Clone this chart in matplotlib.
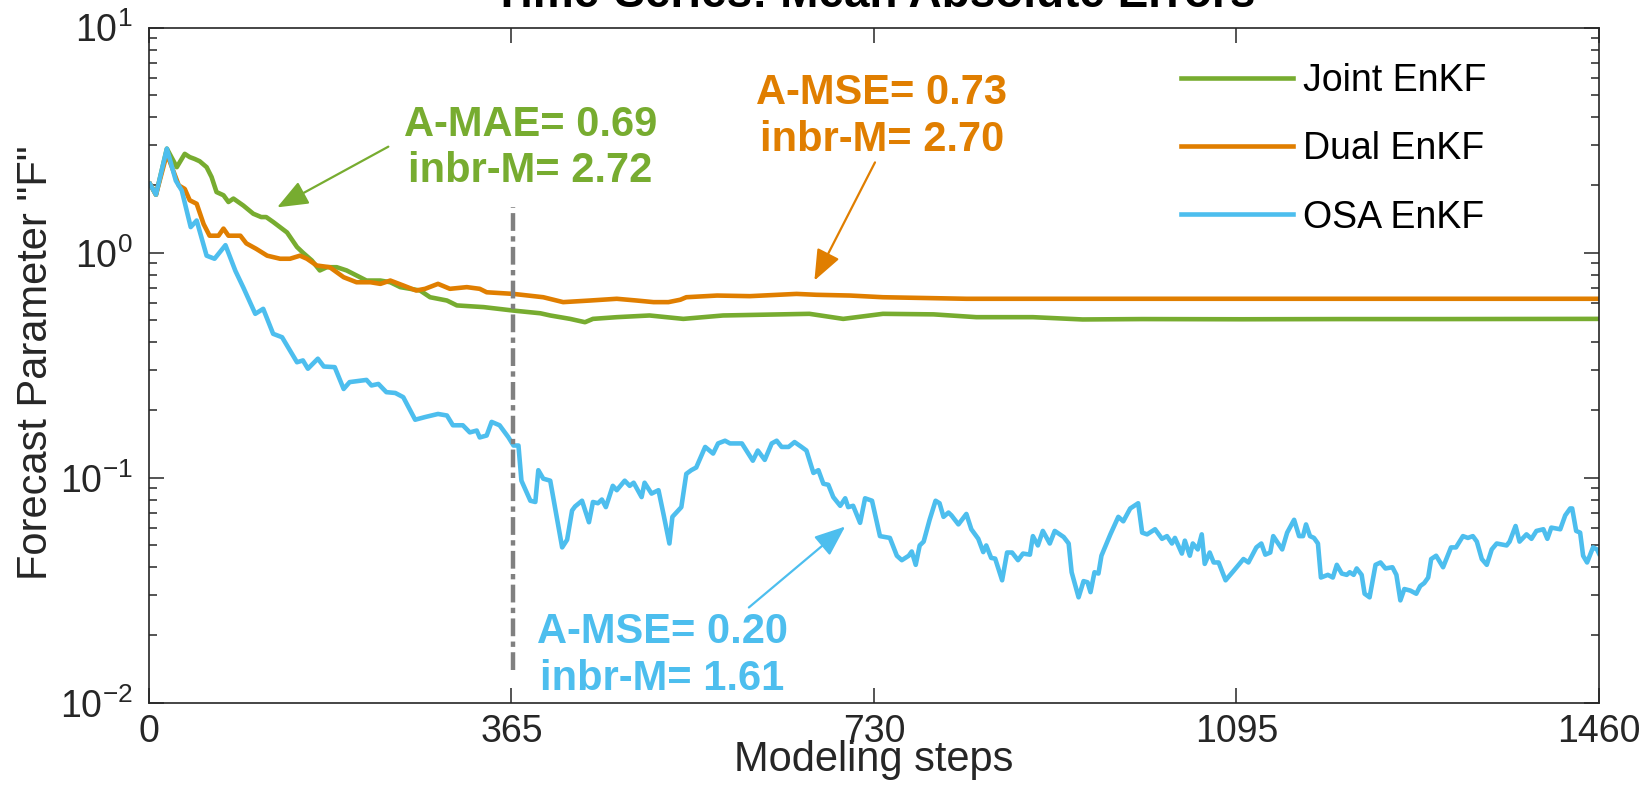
import numpy as np
import matplotlib
matplotlib.use('Agg')
import matplotlib.pyplot as plt
from matplotlib.ticker import LogLocator, NullLocator

plt.rcParams['font.family'] = ['Liberation Sans', 'DejaVu Sans']
plt.rcParams['mathtext.fontset'] = 'custom'
plt.rcParams['mathtext.rm'] = 'Liberation Sans'

# Datos: (paso, error)
joint_pts = [(1, 2.02), (7, 1.81), (18, 2.90), (28, 2.40), (36, 2.75), (41, 2.66), (46, 2.61),
             (51, 2.55), (58, 2.40), (63, 2.17), (68, 1.86), (75, 1.80), (80, 1.68), (85, 1.74),
             (95, 1.62), (105, 1.49), (113, 1.44), (118, 1.44), (125, 1.37), (139, 1.23),
             (149, 1.06), (155, 1.00), (164, 0.923), (172, 0.834), (179, 0.862), (189, 0.862),
             (199, 0.834), (209, 0.792), (219, 0.752), (233, 0.752), (243, 0.739), (253, 0.703),
             (273, 0.679), (283, 0.634), (300, 0.613), (310, 0.583), (337, 0.573), (367, 0.553),
             (394, 0.538), (404, 0.526), (424, 0.508), (439, 0.491), (447, 0.508), (471, 0.517),
             (504, 0.526), (538, 0.508), (578, 0.526), (665, 0.535), (699, 0.508), (739, 0.535),
             (790, 0.532), (833, 0.517), (890, 0.517), (940, 0.505), (1000, 0.507), (1100, 0.506),
             (1200, 0.507), (1300, 0.507), (1460, 0.508)]

dual_pts = [(1, 2.02), (7, 1.81), (18, 2.75), (30, 1.99), (36, 1.92), (41, 1.71), (48, 1.65),
            (55, 1.34), (61, 1.19), (70, 1.19), (75, 1.28), (80, 1.19), (92, 1.19), (98, 1.10),
            (108, 1.04), (119, 0.97), (132, 0.94), (142, 0.94), (152, 0.97), (159, 0.94),
            (169, 0.877), (182, 0.862), (196, 0.778), (209, 0.739), (223, 0.739), (233, 0.727),
            (243, 0.752), (256, 0.715), (269, 0.679), (278, 0.691), (291, 0.727), (303, 0.691),
            (320, 0.703), (333, 0.691), (340, 0.667), (367, 0.656), (397, 0.634), (417, 0.603),
            (444, 0.613), (471, 0.624), (491, 0.613), (508, 0.603), (523, 0.603), (535, 0.618),
            (541, 0.634), (572, 0.645), (605, 0.641), (652, 0.656), (672, 0.650), (706, 0.645),
            (739, 0.634), (823, 0.624), (1000, 0.624), (1200, 0.624), (1460, 0.624)]

osa_pts = [(1, 2.02), (7, 1.81), (18, 2.90), (27, 2.09), (33, 1.89), (42, 1.30), (48, 1.39),
           (58, 0.97), (66, 0.94), (77, 1.08), (87, 0.83), (95, 0.70), (107, 0.535), (115, 0.563),
           (125, 0.436), (134, 0.421), (149, 0.326), (155, 0.332), (160, 0.305), (170, 0.338),
           (176, 0.312), (187, 0.310), (196, 0.248), (202, 0.266), (219, 0.272), (224, 0.257),
           (231, 0.261), (239, 0.240), (248, 0.238), (256, 0.228), (268, 0.181), (278, 0.186),
           (291, 0.192), (300, 0.189), (306, 0.171), (316, 0.171), (323, 0.159), (330, 0.162),
           (333, 0.151), (340, 0.154), (345, 0.177), (353, 0.171), (362, 0.151), (367, 0.139),
           (372, 0.139), (375, 0.097), (384, 0.079), (389, 0.078), (392, 0.108), (397, 0.099),
           (404, 0.097), (410, 0.069), (416, 0.049), (421, 0.053), (426, 0.0715), (429, 0.0745),
           (436, 0.079), (443, 0.0634), (447, 0.078), (452, 0.077), (456, 0.080), (460, 0.074),
           (467, 0.092), (471, 0.088), (479, 0.097), (484, 0.092), (488, 0.095), (496, 0.082),
           (499, 0.095), (506, 0.085), (513, 0.088), (518, 0.069), (524, 0.051), (527, 0.067),
           (536, 0.074), (541, 0.104), (546, 0.108), (551, 0.111), (560, 0.137), (568, 0.128),
           (573, 0.142), (580, 0.146), (585, 0.142), (597, 0.142), (608, 0.119), (613, 0.132),
           (620, 0.120), (627, 0.142), (632, 0.146), (637, 0.137), (644, 0.137), (650, 0.144),
           (657, 0.137), (662, 0.132), (669, 0.105), (674, 0.108), (679, 0.094), (684, 0.093),
           (689, 0.082), (696, 0.075), (701, 0.081), (704, 0.074), (709, 0.075), (716, 0.063),
           (721, 0.081), (728, 0.079), (736, 0.055), (746, 0.054), (753, 0.045), (758, 0.043),
           (765, 0.045), (768, 0.047), (772, 0.041), (776, 0.050), (780, 0.052), (786, 0.065),
           (792, 0.079), (796, 0.077), (800, 0.067), (805, 0.070), (808, 0.068), (815, 0.062),
           (823, 0.069), (828, 0.059), (835, 0.0535), (840, 0.0467), (843, 0.050), (848, 0.044),
           (852, 0.0437), (859, 0.035), (864, 0.0465), (869, 0.0465), (875, 0.043), (880, 0.046),
           (887, 0.0455), (890, 0.055), (895, 0.050), (900, 0.058), (907, 0.051), (912, 0.058),
           (921, 0.0545), (926, 0.051), (929, 0.038), (936, 0.0294), (941, 0.0347), (945, 0.0343),
           (948, 0.031), (952, 0.038), (956, 0.0375), (959, 0.045), (968, 0.056), (976, 0.067),
           (981, 0.064), (988, 0.073), (996, 0.077), (1000, 0.057), (1005, 0.056), (1013, 0.059),
           (1020, 0.0535), (1025, 0.055), (1030, 0.051), (1033, 0.054), (1040, 0.046), (1043, 0.0525),
           (1048, 0.045), (1051, 0.051), (1056, 0.048), (1060, 0.056), (1063, 0.0414), (1068, 0.0465),
           (1072, 0.042), (1077, 0.042), (1084, 0.035), (1092, 0.0385), (1102, 0.0435), (1107, 0.042),
           (1115, 0.049), (1120, 0.051), (1124, 0.0455), (1129, 0.0465), (1132, 0.055), (1141, 0.048),
           (1146, 0.057), (1153, 0.065), (1158, 0.055), (1162, 0.055), (1165, 0.062), (1169, 0.055),
           (1173, 0.054), (1177, 0.051), (1180, 0.036), (1187, 0.037), (1192, 0.036), (1196, 0.041),
           (1201, 0.0375), (1206, 0.037), (1209, 0.038), (1213, 0.037), (1216, 0.0395), (1221, 0.037),
           (1224, 0.0305), (1229, 0.0294), (1235, 0.041), (1240, 0.042), (1245, 0.0395), (1252, 0.040),
           (1256, 0.037), (1260, 0.0285), (1264, 0.032), (1270, 0.0315), (1276, 0.0305), (1280, 0.033),
           (1284, 0.034), (1288, 0.036), (1291, 0.0435), (1296, 0.045), (1303, 0.040), (1311, 0.049),
           (1316, 0.049), (1323, 0.055), (1328, 0.054), (1333, 0.055), (1337, 0.052), (1342, 0.0435),
           (1347, 0.041), (1352, 0.048), (1357, 0.051), (1367, 0.050), (1370, 0.052), (1376, 0.061),
           (1380, 0.052), (1387, 0.056), (1392, 0.0535), (1397, 0.058), (1404, 0.059), (1408, 0.0535),
           (1412, 0.060), (1421, 0.059), (1426, 0.068), (1431, 0.073), (1433, 0.073), (1437, 0.058),
           (1441, 0.057), (1444, 0.045), (1448, 0.042), (1454, 0.049), (1458, 0.048), (1460, 0.046)]

labels = ['Joint EnKF', 'Dual EnKF', 'OSA EnKF']
colores = ['#77AC30', '#E07E00', '#4DBEEE']
xticks = [0, 365, 730, 1095, 1460]

# Linea vertical de separacion
paso_corte = 367
corte_min, corte_max = 0.014, 1.6

# Textos de las anotaciones: (texto, centro del texto, inicio flecha, punta flecha)
anotaciones = [
    ('A-MAE= 0.69\ninbr-M= 2.72', (384, 2.93), (241, 2.96), (129, 1.59)),
    ('A-MSE= 0.73\ninbr-M= 2.70', (738, 4.03), (731, 2.52), (670, 0.752)),
    ('A-MSE= 0.20\ninbr-M= 1.61', (517, 0.0162), (604, 0.0265), (701, 0.0607)),
]

fig = plt.figure(figsize=(16.49, 7.98), dpi=100)
ax = fig.add_axes([149/1649, 1-702.7/798, 1450/1649, 675/798])

for pts, lab, col in zip([joint_pts, dual_pts, osa_pts], labels, colores):
    arr = np.array(pts)
    ax.plot(arr[:, 0], arr[:, 1], color=col, lw=3.3, label=lab)

ax.plot([paso_corte, paso_corte], [corte_min, corte_max], color='#808080', lw=3.2,
        linestyle=(0, (4, 1.2, 1.2, 1.2)))

for (txt, pos, ini, fin), col in zip(anotaciones, colores):
    ax.text(pos[0], pos[1], txt, color=col, fontsize=30, fontweight='bold',
            ha='center', va='center', multialignment='center', linespacing=1.2)
    ax.annotate('', xy=fin, xytext=ini,
                arrowprops=dict(arrowstyle='-|>,head_length=0.95,head_width=0.38',
                                color=col, lw=1.6, mutation_scale=20, shrinkA=0, shrinkB=0))

ax.set_yscale('log')
ax.set_xlim(0, 1460)
ax.set_ylim(0.01, 10)
ax.set_xticks(xticks)
ax.xaxis.set_minor_locator(NullLocator())
ax.yaxis.set_major_locator(LogLocator(base=10, numticks=10))
ax.yaxis.set_minor_locator(LogLocator(base=10, subs=np.arange(2, 10), numticks=10))

for s in ax.spines.values():
    s.set_color('#262626')
    s.set_linewidth(1.2)
ax.tick_params(axis='both', which='both', direction='in', top=True, right=True,
               color='#262626', labelcolor='#262626', width=1.1)
ax.tick_params(axis='x', which='major', length=11, labelsize=27, pad=8)
ax.tick_params(axis='y', which='major', length=11, labelsize=27, pad=12)
ax.tick_params(axis='y', which='minor', length=6)

ax.set_xlabel('Modeling steps', fontsize=30, color='#262626')
ax.set_ylabel('Forecast Parameter "F"', fontsize=30, color='#262626')
ax.xaxis.set_label_coords(0.5, -0.055)
ax.yaxis.set_label_coords(-0.064, 0.503)

fig.text(874/1649, 1-7/798, 'Time-Series: Mean Absolute Errors', fontsize=33, fontweight='bold',
         ha='center', va='baseline', color='black')

ax.legend(loc='upper left', bbox_to_anchor=(1181/1649, 1-63/798), bbox_transform=fig.transFigure,
          frameon=False, borderaxespad=0, borderpad=0, handlelength=3.0, handletextpad=0.25,
          labelspacing=0.86, fontsize=27)

fig.savefig('out.png', dpi=100)
